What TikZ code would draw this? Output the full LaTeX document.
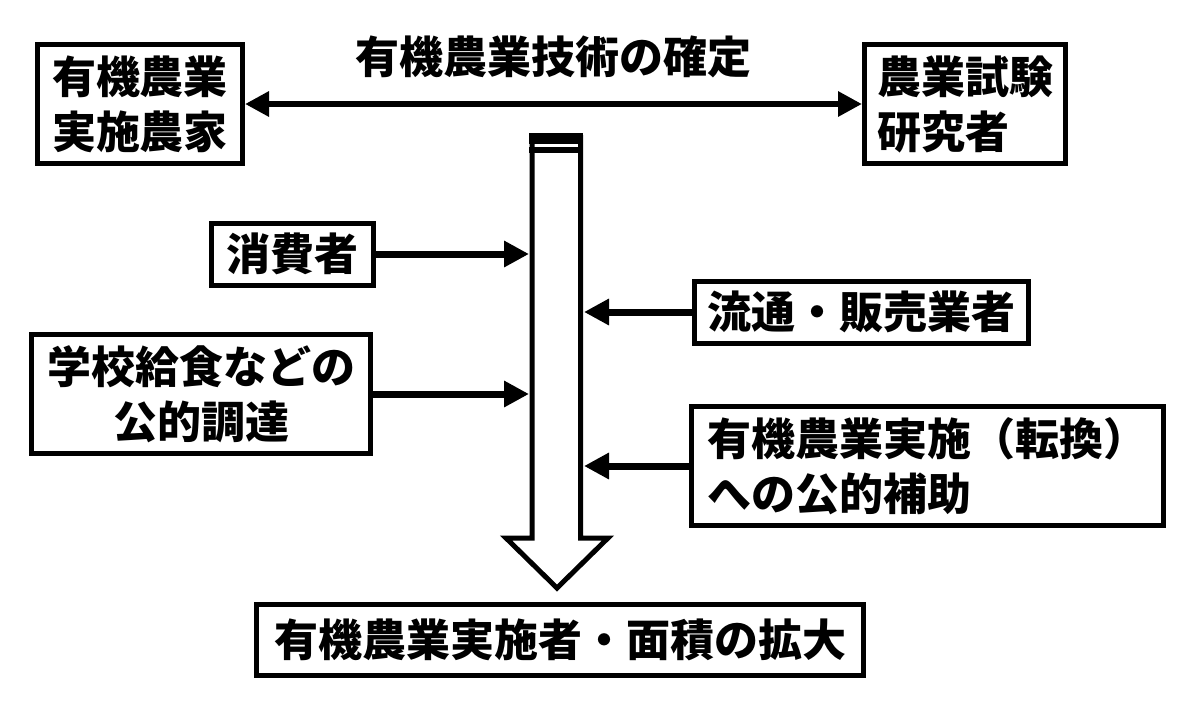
\documentclass[tikz,border=0pt]{standalone}
\usepackage{fontspec}
\setmainfont{Noto Sans CJK JP}
\usetikzlibrary{arrows.meta}
\tikzset{
  box/.style ={draw, line width=2.5pt, inner sep=0pt, align=left,
               font=\bfseries\fontsize{22}{27.5}\selectfont},
  feed/.style={line width=3.5pt, -{Triangle[length=12.5pt,width=12.5pt]}},
  both/.style={line width=3pt, {Triangle[length=12pt,width=12pt]}-{Triangle[length=12pt,width=12pt]}}
}

\begin{document}
\begin{tikzpicture}[x=0.5pt,y=-0.5pt]
   \useasboundingbox (0,0) rectangle (1200,713);
 %
   \node[box,minimum width=102.5pt,minimum height=59.5pt] (farm)     at ( 140, 104) {有機農業\\実施農家};
   \node[box,minimum width=100.5pt,minimum height=59.5pt] (research) at ( 965, 104) {農業試験\\研究者};
   \node[box,draw=none]                                   (title)    at ( 553,  57) {有機農業技術の確定};
   \node[box,minimum width= 81.0pt,minimum height=31.0pt] (consumer) at ( 292, 254) {消費者};
   \node[box,minimum width=169.5pt,minimum height=59.5pt,align=center]
                                                          (school)   at ( 201, 394) {学校給食などの\\公的調達};
   \node[box,minimum width=167.0pt,minimum height=31.0pt] (dist)     at ( 861, 312) {流通・販売業者};
   \node[box,minimum width=236.0pt,minimum height=59.5pt] (subsidy)  at ( 927, 466) {有機農業実施（転換）\\への公的補助};
   \node[box,minimum width=303.5pt,minimum height=35.5pt] (result)   at ( 560, 640) {有機農業実施者・面積の拡大};
 %
   % big arrow
   \coordinate (wl) at (529,0);
   \coordinate (wr) at (584,0);
   \draw[line width=2.5pt,line join=miter]
    (532,135) -- (532,538) -- (506,538) -- (557,588) --
    (608,538) -- (580.5,538) -- (580.5,135);
   \fill (529,133) rectangle (583,144);
   \fill (529,147) rectangle (583,153);
 %
   \draw[both] (farm.east) -- (research.west);
   \draw[feed] (consumer.east) -- (consumer.east -| wl);
   \draw[feed] (school.east)   -- (school.east -| wl);
   \draw[feed] (dist.west)     -- (dist.west -| wr);
   \draw[feed] (subsidy.west)  -- (subsidy.west -| wr);
\end{tikzpicture}
\end{document}
